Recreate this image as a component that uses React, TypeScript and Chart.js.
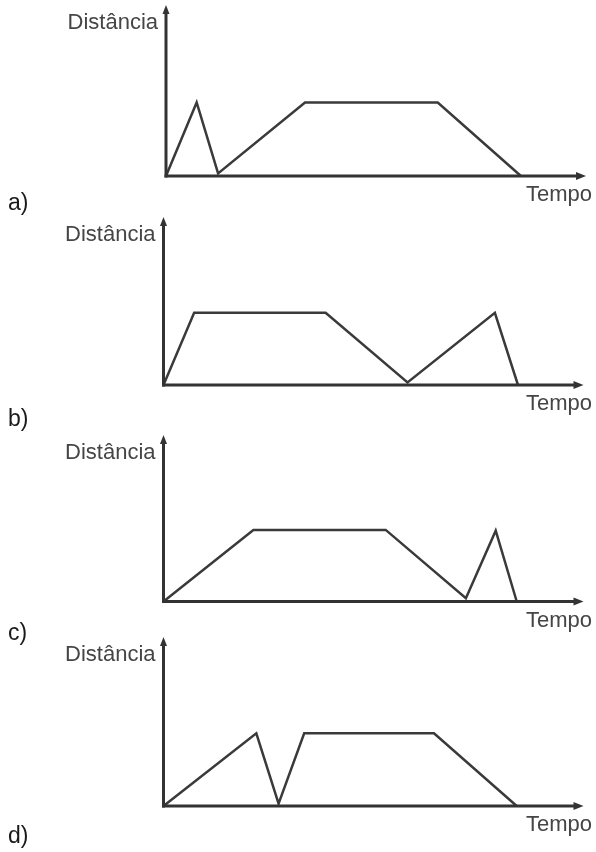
import React, { useEffect, useRef } from "react";
import { Chart, registerables } from "chart.js";

Chart.register(...registerables);

// ---- Data (time units 0..100 = x-axis length, distance units 0..100 = y-axis length) ----
const PANEL_LABELS = ["a)", "b)", "c)", "d)"];
const Y_TITLE = "Distância";
const X_TITLE = "Tempo";
const X_MAX = 100;
const Y_MAX = 100;

const TIME_A = [0, 7.3, 12.4, 33.1, 64.7, 84.5];
const DIST_A = [0, 43, 1.5, 43, 43, 0];

const TIME_B = [0, 7.3, 38.6, 58.1, 78.9, 84.4];
const DIST_B = [0, 43, 43, 1.5, 43, 0];

const TIME_C = [0, 21.4, 52.9, 72.0, 79.1, 84.1];
const DIST_C = [0, 43, 43, 2, 42.5, 0];

const TIME_D = [0, 22.1, 27.4, 33.5, 64.4, 84.1];
const DIST_D = [0, 43, 1.4, 43, 43, 0];

const SERIES = [
  { time: TIME_A, dist: DIST_A },
  { time: TIME_B, dist: DIST_B },
  { time: TIME_C, dist: DIST_C },
  { time: TIME_D, dist: DIST_D },
];

// ---- Layout / style ----
const W = 596;
const H = 852;
const LAYOUT = [
  { axisX: 166, axisY: 176, topY: 5, tipX: 586, labelY: 210 },
  { axisX: 163.5, axisY: 385, topY: 217, tipX: 583.5, labelY: 426 },
  { axisX: 163.5, axisY: 601.5, topY: 435, tipX: 583.5, labelY: 640 },
  { axisX: 163.5, axisY: 806, topY: 637, tipX: 583.5, labelY: 843 },
];
const AXIS_COLOR = "#333333";
const LINE_COLOR = "#3a3a3a";
const TITLE_COLOR = "#454545";
const LABEL_COLOR = "#1a1a1a";
const FONT = "'Liberation Sans', Arial, Helvetica, sans-serif";

function Panel({ index }: { index: number }) {
  const ref = useRef<HTMLCanvasElement | null>(null);
  useEffect(() => {
    const canvas = ref.current;
    if (!canvas) return;
    const lay = LAYOUT[index];
    const s = SERIES[index];
    const label = PANEL_LABELS[index];

    const axesPlugin = {
      id: "axesArrows" + index,
      afterDraw(chart: any) {
        const { ctx, chartArea: ca } = chart;
        ctx.save();
        ctx.strokeStyle = AXIS_COLOR;
        ctx.fillStyle = AXIS_COLOR;
        ctx.lineWidth = 3;
        ctx.lineCap = "butt";
        // y axis
        ctx.beginPath();
        ctx.moveTo(ca.left, ca.bottom + 1.5);
        ctx.lineTo(ca.left, ca.top + 6);
        ctx.stroke();
        // x axis
        ctx.beginPath();
        ctx.moveTo(ca.left - 1.5, ca.bottom);
        ctx.lineTo(ca.right - 6, ca.bottom);
        ctx.stroke();
        // arrowheads
        ctx.beginPath();
        ctx.moveTo(ca.left, ca.top);
        ctx.lineTo(ca.left - 3.5, ca.top + 9);
        ctx.lineTo(ca.left + 3.5, ca.top + 9);
        ctx.closePath();
        ctx.fill();
        ctx.beginPath();
        ctx.moveTo(ca.right, ca.bottom);
        ctx.lineTo(ca.right - 10, ca.bottom - 4);
        ctx.lineTo(ca.right - 10, ca.bottom + 4);
        ctx.closePath();
        ctx.fill();
        // axis titles
        ctx.font = "22px " + FONT;
        ctx.fillStyle = TITLE_COLOR;
        ctx.textAlign = "right";
        ctx.textBaseline = "alphabetic";
        ctx.fillText(Y_TITLE, ca.left - 8, ca.top + 24);
        ctx.fillText(X_TITLE, 592, ca.bottom + 25);
        // panel label
        ctx.font = "23px " + FONT;
        ctx.fillStyle = LABEL_COLOR;
        ctx.textAlign = "left";
        ctx.fillText(label, 8, lay.labelY);
        ctx.restore();
      },
    };

    const chart = new Chart(canvas, {
      type: "line",
      data: {
        datasets: [
          {
            data: s.time.map((t, i) => ({ x: t, y: s.dist[i] })),
            borderColor: LINE_COLOR,
            borderWidth: 2.5,
            pointRadius: 0,
            tension: 0,
            fill: false,
            clip: false as any,
            borderJoinStyle: "miter",
            borderCapStyle: "butt",
          },
        ],
      },
      options: {
        responsive: false,
        animation: false,
        devicePixelRatio: 1,
        layout: {
          padding: {
            left: lay.axisX,
            right: W - lay.tipX,
            top: lay.topY,
            bottom: H - lay.axisY,
          },
        },
        plugins: {
          legend: { display: false },
          tooltip: { enabled: false },
          title: { display: false },
        },
        events: [],
        scales: {
          x: { type: "linear", min: 0, max: X_MAX, display: false },
          y: { type: "linear", min: 0, max: Y_MAX, display: false },
        },
      } as any,
      plugins: [axesPlugin],
    });
    return () => chart.destroy();
  }, [index]);

  return (
    <canvas
      ref={ref}
      width={W}
      height={H}
      style={{ position: "absolute", left: 0, top: 0, width: W, height: H }}
    />
  );
}

export default function App() {
  return (
    <div
      style={{
        position: "absolute",
        left: 0,
        top: 0,
        width: W,
        height: H,
        background: "#ffffff",
        overflow: "hidden",
      }}
    >
      {SERIES.map((_, i) => (
        <Panel key={i} index={i} />
      ))}
    </div>
  );
}
